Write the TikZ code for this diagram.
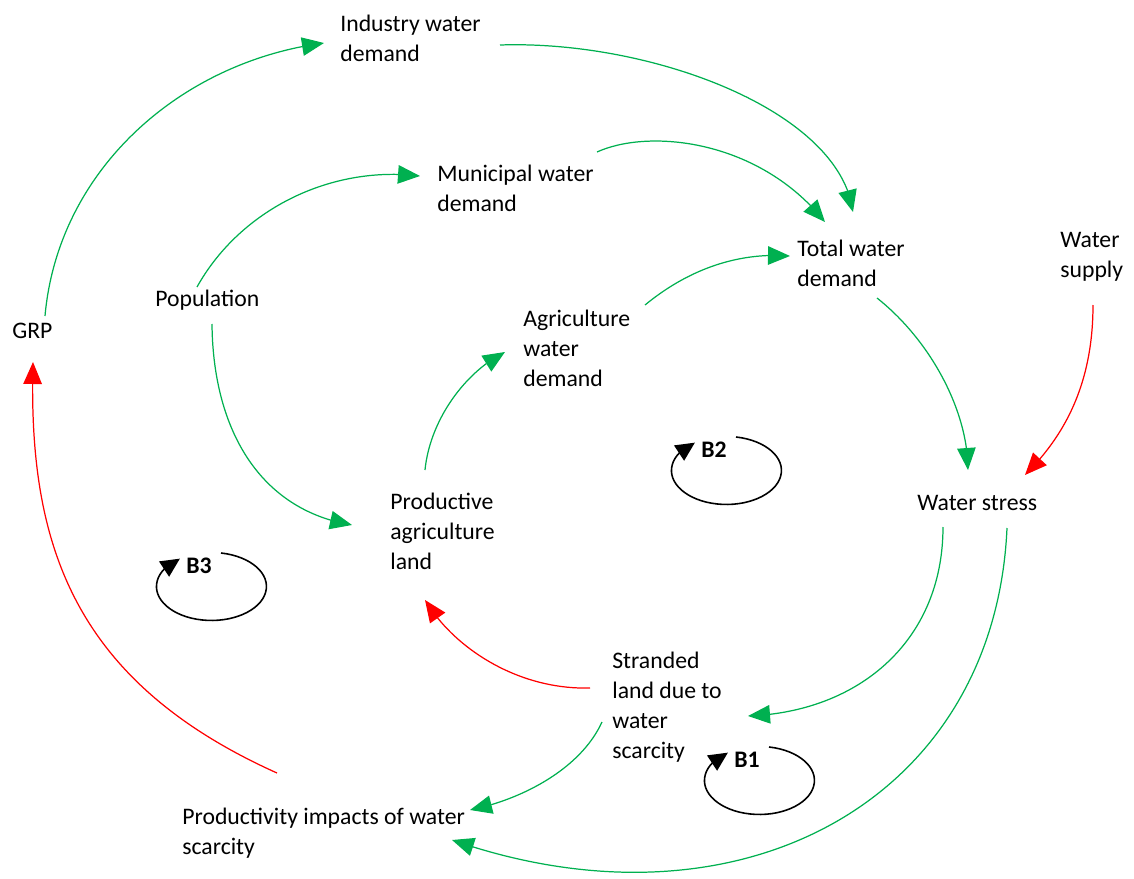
\documentclass[tikz,border=0pt]{standalone}
\usepackage{fontspec}
\setmainfont{Carlito}
\usepackage{xcolor}
\usepackage{tikz}
\usetikzlibrary{arrows.meta,bending}
\definecolor{linkgreen}{RGB}{0,176,80}
\definecolor{linkred}{RGB}{255,0,0}

\begin{document}
\begin{tikzpicture}[x=0.02cm, y=-0.02cm,
    varbox/.style={anchor=north west, inner sep=0pt, align=left, font=\fontsize{13.5}{17}\selectfont},
    poslink/.style={draw=linkgreen, line width=0.7pt, -{Triangle[length=4.4mm,width=3.7mm]}},
    neglink/.style={poslink, draw=linkred},
    loopsym/.style={draw=black, line width=0.9pt, -{Triangle[length=3.8mm,width=3.6mm,flex]}},
    looplbl/.style={anchor=west, inner sep=0pt, font=\fontsize{13.5}{17}\selectfont\bfseries}
]
\useasboundingbox (0,0) rectangle (1134,879);

% variables
\node[varbox] (indwd) at (340,15) {Industry water\\demand};
\node[varbox] (munwd) at (437,165) {Municipal water\\demand};
\node[varbox] (totwd) at (797,240) {Total water\\demand};
\node[varbox] (supply) at (1060,232) {Water\\supply};
\node[varbox] (grp) at (12,323) {GRP};
\node[varbox] (pop) at (155,290) {Population};
\node[varbox] (agrwd) at (523,310) {Agriculture\\water\\demand};
\node[varbox] (prodland) at (390,493) {Productive\\agriculture\\land};
\node[varbox] (stress) at (917,495) {Water stress};
\node[varbox] (stranded) at (612,652) {Stranded\\land due to\\water\\scarcity};
\node[varbox] (impacts) at (182,808) {Productivity impacts of water\\scarcity};

% positive links
\draw[poslink] ([shift={(33,-7)}]grp.north west) .. controls (58,170) and (180,62) .. ([shift={(-16,28)}]indwd.north west);
\draw[poslink] ([shift={(42,-3)}]pop.north west) .. controls (240,210) and (330,165) .. ([shift={(-17,11)}]munwd.north west);
\draw[poslink] ([shift={(57,34)}]pop.north west) .. controls (213,430) and (260,510) .. ([shift={(-38,32)}]prodland.north west);
\draw[poslink] ([shift={(35,-23)}]prodland.north west) .. controls (430,420) and (465,372) .. ([shift={(-18,42)}]agrwd.north west);
\draw[poslink] ([shift={(122,-5)}]agrwd.north west) .. controls (690,268) and (740,252) .. ([shift={(-7,16)}]totwd.north west);
\draw[poslink] ([shift={(160,-13)}]munwd.north west) .. controls (650,128) and (760,140) .. ([shift={(28,-18)}]totwd.north west);
\draw[poslink] ([shift={(160,30)}]indwd.north west) .. controls (650,40) and (840,110) .. ([shift={(56,-28)}]totwd.north west);
\draw[poslink] ([shift={(80,58)}]totwd.north west) .. controls (930,340) and (968,410) .. ([shift={(51,-25)}]stress.north west);
\draw[poslink] ([shift={(26,32)}]stress.north west) .. controls (943,640) and (860,712) .. ([shift={(136,64)}]stranded.north west);
\draw[poslink] ([shift={(90,33)}]stress.north west) .. controls (995,800) and (740,940) .. ([shift={(270,32)}]impacts.north west);
\draw[poslink] ([shift={(-10,70)}]stranded.north west) .. controls (580,770) and (520,800) .. ([shift={(288,2)}]impacts.north west);

% negative links
\draw[neglink] ([shift={(33,73)}]supply.north west) .. controls (1093,390) and (1060,440) .. ([shift={(108,-20)}]stress.north west);
\draw[neglink] ([shift={(-22,36)}]stranded.north west) .. controls (520,690) and (455,650) .. ([shift={(35,107)}]prodland.north west);
\draw[neglink] ([shift={(95,-35)}]impacts.north west) .. controls (70,680) and (28,540) .. ([shift={(21,39)}]grp.north west);

% balancing loops
\foreach \cx/\cy/\lbl in {211/586/B3, 726/470/B2, 759/780/B1} {
  \draw[loopsym] ([shift={(10,-33)}]\cx,\cy) arc[start angle=80, end angle=-235, x radius=1.1cm, y radius=0.68cm];
  \node[looplbl] (loop\lbl) at ([shift={(-25,-20)}]\cx,\cy) {\lbl};
}
\end{tikzpicture}
\end{document}
